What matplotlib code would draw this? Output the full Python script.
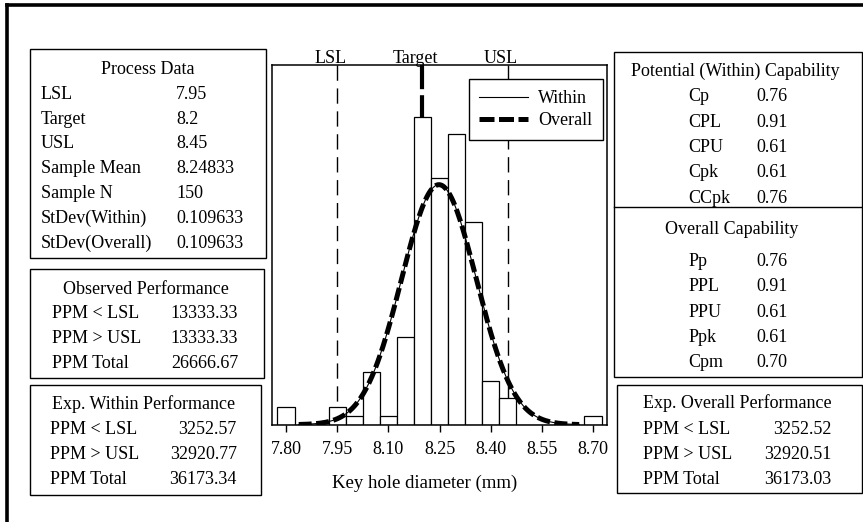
import numpy as np
import matplotlib.pyplot as plt
from matplotlib.patches import Rectangle
from matplotlib.lines import Line2D

plt.rcParams['font.family'] = ['Liberation Serif', 'DejaVu Serif']

# histogram of key hole diameter (bins of 0.05 mm)
bin_centers = [7.80, 7.85, 7.90, 7.95, 8.00, 8.05, 8.10, 8.15, 8.20, 8.25,
               8.30, 8.35, 8.40, 8.45, 8.50, 8.55, 8.60, 8.65, 8.70]
bin_counts = [2, 0, 0, 2, 1, 6, 1, 10, 35, 28, 33, 23, 5, 3, 0, 0, 0, 0, 1]
bin_width = 0.05

lsl, target, usl = 7.95, 8.2, 8.45
sample_mean = 8.24833
sample_n = 150
sd_within = 0.109633
sd_overall = 0.109633

xticks = [7.80, 7.95, 8.10, 8.25, 8.40, 8.55, 8.70]

# summary tables
process_labels = ['LSL', 'Target', 'USL', 'Sample Mean', 'Sample N',
                  'StDev(Within)', 'StDev(Overall)']
process_values = ['7.95', '8.2', '8.45', '8.24833', '150', '0.109633', '0.109633']

ppm_labels = ['PPM < LSL', 'PPM > USL', 'PPM Total']
observed_values = ['13333.33', '13333.33', '26666.67']
exp_within_values = ['3252.57', '32920.77', '36173.34']
exp_overall_values = ['3252.52', '32920.51', '36173.03']

within_labels = ['Cp', 'CPL', 'CPU', 'Cpk', 'CCpk']
within_values = ['0.76', '0.91', '0.61', '0.61', '0.76']
overall_labels = ['Pp', 'PPL', 'PPU', 'Ppk', 'Cpm']
overall_values = ['0.76', '0.91', '0.61', '0.61', '0.70']

W, H = 863, 522
fig = plt.figure(figsize=(W / 100, H / 100), dpi=100)


def fx(x):
    return x / W


def fy(y):
    return 1 - y / H


def box(x0, y0, x1, y1, lw=1.0):
    fig.add_artist(Rectangle((fx(x0), fy(y1)), (x1 - x0) / W, (y1 - y0) / H,
                             transform=fig.transFigure, fill=False,
                             edgecolor='black', linewidth=lw))


def txt(x, y, s, ha='left', size=13):
    fig.text(fx(x), fy(y), s, ha=ha, va='center', fontsize=size)


# outer frame (only top and left edges visible)
fig.add_artist(Line2D([fx(7), fx(7)], [0, fy(5)], transform=fig.transFigure,
                      color='black', lw=2.6))
fig.add_artist(Line2D([fx(7), 1], [fy(5), fy(5)], transform=fig.transFigure,
                      color='black', lw=2.6))

# histogram panel
ax = fig.add_axes([fx(271.7), fy(424.7), (607 - 271.7) / W, (424.7 - 65) / H])
ymax = 40.9
ax.set_xlim(7.758, 8.741)
ax.set_ylim(0, ymax)

ax.plot([lsl, lsl], [ymax, 0], color='black', lw=1, dashes=(11, 5.5), zorder=1)
ax.plot([usl, usl], [ymax, 0], color='black', lw=1, dashes=(11, 5.5), zorder=1)
ax.plot([target, target], [ymax, 0], color='black', lw=3, dashes=(5.8, 1.45), zorder=1)

ax.bar(bin_centers, bin_counts, width=bin_width, color='white',
       edgecolor='black', linewidth=0.9, zorder=2)

xs = np.linspace(sample_mean - 3.75 * sd_within, sample_mean + 3.75 * sd_within, 300)
scale = sample_n * bin_width
pdf_within = scale * np.exp(-0.5 * ((xs - sample_mean) / sd_within) ** 2) / (sd_within * np.sqrt(2 * np.pi))
pdf_overall = scale * np.exp(-0.5 * ((xs - sample_mean) / sd_overall) ** 2) / (sd_overall * np.sqrt(2 * np.pi))
ax.plot(xs, pdf_within, color='black', lw=0.8, zorder=3)
ax.plot(xs, pdf_overall, color='black', lw=3.6, dashes=(2.6, 0.9), zorder=4)

for xv, name in [(lsl, 'LSL'), (target, 'Target'), (usl, 'USL')]:
    ax.annotate(name, xy=(xv, 1), xycoords=('data', 'axes fraction'),
                xytext=(-5, 4.5), textcoords='offset points',
                ha='center', va='center', fontsize=13)

ax.set_xticks(xticks)
ax.set_xticklabels([f'{t:.2f}' for t in xticks])
ax.set_yticks([])
ax.tick_params(axis='x', direction='out', length=5, width=1, pad=7, labelsize=13)
for sp in ax.spines.values():
    sp.set_linewidth(1.1)

handles = [Line2D([], [], color='black', lw=0.8),
           Line2D([], [], color='black', lw=3.6, dashes=(3, 0.9))]
leg = ax.legend(handles, ['Within', 'Overall'], loc='upper right',
                bbox_to_anchor=(fx(603), fy(79)), bbox_transform=fig.transFigure,
                borderaxespad=0, fancybox=False, framealpha=1, edgecolor='black',
                handlelength=2.7, handletextpad=0.55, fontsize=13,
                labelspacing=0.3, borderpad=0.6)
leg.get_frame().set_linewidth(1)

txt(425, 483, 'Key hole diameter (mm)', ha='center', size=13.5)

# Process Data box
box(30, 49, 265.7, 258)
txt(147.8, 69.3, 'Process Data', ha='center')
for i, (lab, val) in enumerate(zip(process_labels, process_values)):
    y = 94.3 + i * 24.8
    txt(41, y, lab)
    txt(176, y, val)

# Observed Performance box
box(30, 269.3, 264.3, 378.3)
txt(146, 289, 'Observed Performance', ha='center')
for i, (lab, val) in enumerate(zip(ppm_labels, observed_values)):
    y = 313.5 + i * 25
    txt(51.7, y, lab)
    txt(238.3, y, val, ha='right')

# Exp. Within Performance box
box(30, 385, 261, 495)
txt(144, 404, 'Exp. Within Performance', ha='center')
for i, (lab, val) in enumerate(zip(ppm_labels, exp_within_values)):
    y = 429.3 + i * 24.9
    txt(50, y, lab)
    txt(236.7, y, val, ha='right')

# Potential (Within) / Overall Capability box
box(614, 51.7, 861.7, 377.3)
fig.add_artist(Line2D([fx(614), fx(861.7)], [fy(207.3), fy(207.3)],
                      transform=fig.transFigure, color='black', lw=1))
txt(735.5, 71.7, 'Potential (Within) Capability', ha='center')
for i, (lab, val) in enumerate(zip(within_labels, within_values)):
    y = 96.7 + i * 25.4
    txt(688.3, y, lab)
    txt(756.5, y, val)
txt(731.5, 230, 'Overall Capability', ha='center')
for i, (lab, val) in enumerate(zip(overall_labels, overall_values)):
    y = 261.7 + i * 25.2
    txt(688.3, y, lab)
    txt(756.5, y, val)

# Exp. Overall Performance box
box(616.7, 385, 861.7, 492.7)
txt(737.5, 403.3, 'Exp. Overall Performance', ha='center')
for i, (lab, val) in enumerate(zip(ppm_labels, exp_overall_values)):
    y = 429 + i * 25.5
    txt(643.3, y, lab)
    txt(831.7, y, val, ha='right')

fig.savefig('out.png', dpi=100)
